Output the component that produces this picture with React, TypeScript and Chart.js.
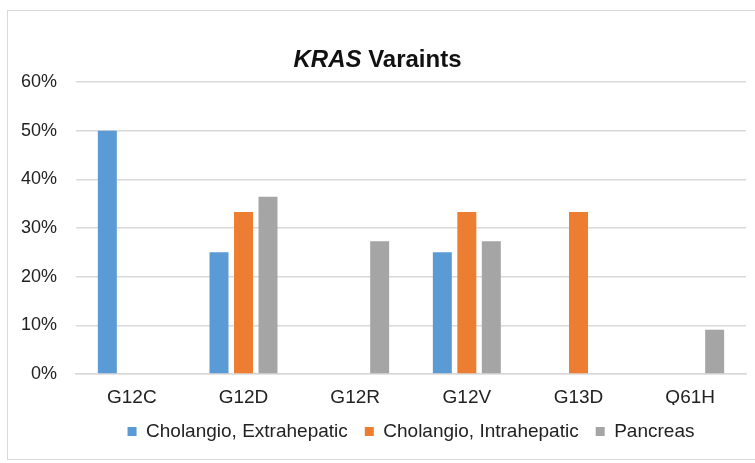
import React, { useEffect, useRef } from "react";
import { Chart, registerables } from "chart.js";

Chart.register(...registerables);

const categories = ["G12C", "G12D", "G12R", "G12V", "G13D", "Q61H"];
const extrahepatic = [50, 25, 0, 25, 0, 0];
const intrahepatic = [0, 33.3, 0, 33.3, 33.3, 0];
const pancreas = [0, 36.4, 27.3, 27.3, 0, 9.1];
const seriesLabels = ["Cholangio, Extrahepatic", "Cholangio, Intrahepatic", "Pancreas"];
const yTicks = [0, 10, 20, 30, 40, 50, 60];
const titleItalic = "KRAS";
const titleRest = " Varaints";

const FONT = "'Liberation Sans', Arial, Helvetica, sans-serif";

const framePlugin = {
  id: "frame",
  beforeDraw(chart: any) {
    const ctx = chart.ctx;
    ctx.save();
    ctx.fillStyle = "#ffffff";
    ctx.fillRect(0, 0, chart.width, chart.height);
    ctx.strokeStyle = "#d9d9d9";
    ctx.lineWidth = 1;
    ctx.strokeRect(7.5, 10.5, chart.width + 20, 449);
    ctx.restore();
  },
  afterDraw(chart: any) {
    const ctx = chart.ctx;
    ctx.save();
    ctx.fillStyle = "#111111";
    ctx.textBaseline = "alphabetic";
    const fItalic = `italic bold 24px ${FONT}`;
    const fBold = `bold 24px ${FONT}`;
    ctx.font = fItalic;
    const w1 = ctx.measureText(titleItalic).width;
    ctx.font = fBold;
    const w2 = ctx.measureText(titleRest).width;
    const cx = 377.5;
    const x0 = cx - (w1 + w2) / 2;
    const y = 67;
    ctx.font = fItalic;
    ctx.fillText(titleItalic, x0, y);
    ctx.font = fBold;
    ctx.fillText(titleRest, x0 + w1, y);
    ctx.restore();
  },
};

export default function App() {
  const ref = useRef<HTMLCanvasElement | null>(null);
  useEffect(() => {
    document.body.style.margin = "0";
    const colors = ["#5B9BD5", "#ED7D31", "#A5A5A5"];
    const values = [extrahepatic, intrahepatic, pancreas];
    const chart = new Chart(ref.current!, {
      type: "bar",
      data: {
        labels: categories,
        datasets: values.map((v, i) => ({
          label: seriesLabels[i],
          data: v,
          backgroundColor: colors[i],
          borderWidth: 0,
          categoryPercentage: 0.658,
          barPercentage: 0.775,
        })),
      },
      options: {
        animation: false,
        responsive: false,
        maintainAspectRatio: false,
        layout: { padding: { left: 0, right: 9, top: 82, bottom: 12 } },
        plugins: {
          title: { display: false },
          tooltip: { enabled: false },
          legend: {
            position: "bottom",
            fullSize: false,
            labels: {
              boxWidth: 9,
              boxHeight: 9,
              padding: 17,
              color: "#222222",
              font: { family: FONT, size: 19 },
            },
          },
        },
        scales: {
          x: {
            grid: { display: false, drawTicks: false },
            border: { display: true, color: "#d9d9d9", width: 1.5 },
            ticks: {
              color: "#222222",
              font: { family: FONT, size: 19 },
              padding: 12,
              maxRotation: 0,
            },
            afterFit: (s: any) => {
              s.height = 31;
            },
          },
          y: {
            min: 0,
            max: 60,
            afterBuildTicks: (s: any) => {
              s.ticks = yTicks.map((v) => ({ value: v }));
            },
            grid: { color: "#d9d9d9", lineWidth: 1.5, drawTicks: false },
            border: { display: false },
            ticks: {
              color: "#222222",
              font: { family: FONT, size: 18 },
              padding: 19,
              callback: (v: any) => `${v}%`,
            },
            afterFit: (s: any) => {
              s.width = 76;
            },
          },
        },
      },
      plugins: [framePlugin],
    });
    return () => chart.destroy();
  }, []);
  return (
    <div style={{ position: "fixed", left: 0, top: 0, width: 755, height: 463 }}>
      <canvas ref={ref} width={755} height={463} style={{ width: 755, height: 463 }} />
    </div>
  );
}
